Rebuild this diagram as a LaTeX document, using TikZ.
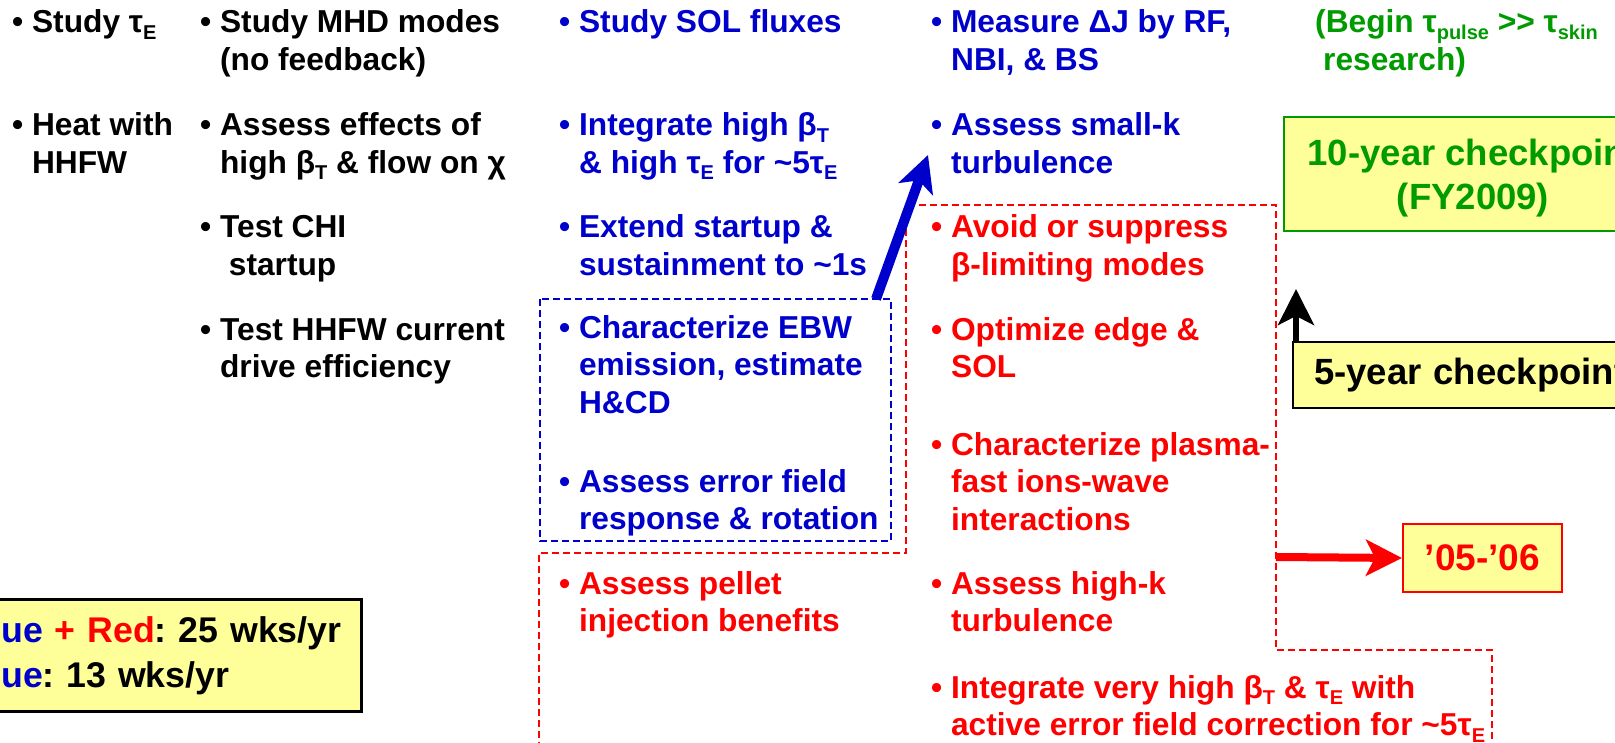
\documentclass[tikz,border=0pt]{standalone}
\usepackage{fontspec}
\setmainfont{Liberation Sans}
\usetikzlibrary{arrows.meta}

\definecolor{planblue}{RGB}{0,0,204}
\definecolor{planred}{RGB}{255,0,0}
\definecolor{plangreen}{RGB}{0,155,0}
\definecolor{noteyellow}{RGB}{255,255,153}

\newcommand{\sbs}[1]{\raisebox{-6.5pt}{\fontsize{20}{20}\selectfont #1}}
\newcommand{\hang}{\phantom{\textbullet\ }}

\tikzset{
	item/.style={anchor=base west, align=left, inner sep=0pt, font=\fontsize{31.7}{37.5}\selectfont\bfseries},
	notebox/.style={draw, fill=noteyellow, line width=2pt, font=\fontsize{36.5}{44}\selectfont\bfseries},
	plandash/.style={line width=2pt, dash pattern=on 7pt off 4pt},
	bigarrow/.style={-{Stealth[length=36pt, width=36pt, inset=9pt]}},
}

\begin{document}
\frenchspacing
\begin{tikzpicture}[x=1pt, y=-1pt]
	\fill[white] (0,0) rectangle (1615,743);
	\path[use as bounding box, clip] (0,0) rectangle (1615,743);

	\coordinate (bluetail) at (876,299);
	\coordinate (bluetip) at (928,155);
	\coordinate (blacktip) at (1296,289);
	\coordinate (redtail) at (1276,557);

	% run-time outlines
	\draw[plandash, planred] (539,760) -- (539,553) -- (906,553) -- (906,205) -- (1276,205)
		-- (1276,650) -- (1492,650) -- (1492,760);
	\draw[plandash, planblue] (540,299) rectangle (891,541);

	% first years (base = last line)
	\node[item] (tau) at (12,33) {\textbullet\ Study τ\sbs{E}};
	\node[item] (heat) at (12,173.5) {\textbullet\ Heat with\\\hang HHFW};

	\node[item] (mhd) at (200,70.5) {\textbullet\ Study MHD modes\\\hang(no feedback)};
	\node[item] (chi) at (200,173.5) {\textbullet\ Assess effects of\\\hang high β\sbs{T} \& flow on χ};
	\node[item] (chist) at (200,275.5) {\textbullet\ Test CHI\\\hang\ startup};
	\node[item] (hhfw) at (200,377.5) {\textbullet\ Test HHFW current\\\hang drive efficiency};

	% blue and red columns
	\node[item, text=planblue] (sol) at (559,33) {\textbullet\ Study SOL fluxes};
	\node[item, text=planblue] (integ) at (559,173.5) {\textbullet\ Integrate high β\sbs{T}\\\hang\& high τ\sbs{E} for \textasciitilde5τ\sbs{E}};
	\node[item, text=planblue] (extend) at (559,275.5) {\textbullet\ Extend startup \&\\\hang sustainment to \textasciitilde1s};
	\node[item, text=planblue] (ebw) at (559,413) {\textbullet\ Characterize EBW\\\hang emission, estimate\\\hang H\&CD};
	\node[item, text=planblue] (efield) at (559,529.5) {\textbullet\ Assess error field\\\hang response \& rotation};
	\node[item, text=planred] (pellet) at (559,631.5) {\textbullet\ Assess pellet\\\hang injection benefits};

	\node[item, text=planblue] (dj) at (931,70.5) {\textbullet\ Measure ΔJ by RF,\\\hang NBI, \& BS};
	\node[item, text=planblue] (smallk) at (931,173.5) {\textbullet\ Assess small-k\\\hang turbulence};
	\node[item, text=planred] (avoid) at (931,275.5) {\textbullet\ Avoid or suppress\\\hang β-limiting modes};
	\node[item, text=planred] (edge) at (931,377.5) {\textbullet\ Optimize edge \&\\\hang SOL};
	\node[item, text=planred] (fastion) at (931,530) {\textbullet\ Characterize plasma-\\\hang fast ions-wave\\\hang interactions};
	\node[item, text=planred] (highk) at (931,631.5) {\textbullet\ Assess high-k\\\hang turbulence};
	\node[item, text=planred] (vhigh) at (931,735.5) {\textbullet\ Integrate very high β\sbs{T} \& τ\sbs{E} with\\\hang active error field correction for \textasciitilde5τ\sbs{E}};

	\node[item, text=plangreen] (pulse) at (1315,70.5) {(Begin τ\sbs{pulse} \mbox{>}\mbox{>} τ\sbs{skin}\\\hspace*{8pt}research)};

	% checkpoints
	\node[notebox, draw=plangreen, text=plangreen, anchor=north west, minimum width=378pt, minimum height=114pt, text depth=0pt, align=center] (ten) at (1283,116) {10-year checkpoint\\(FY2009)};
	\node[notebox, anchor=north west, minimum height=66pt, text width=360pt, inner xsep=21pt, align=left] (five) at (1292,341) {5-year checkpoint};
	\node[notebox, draw=planred, text=planred, minimum width=159pt, minimum height=68pt, font=\fontsize{37}{44}\selectfont\bfseries] (oh) at (1482.5,558) {’05-’06};
	\node[notebox, line width=3pt, anchor=north west, minimum height=112pt, text width=392pt, inner xsep=4pt, align=left, font=\fontsize{35.7}{45}\selectfont\bfseries] (legend) at (-40,598)
		{\textcolor{planblue}{Blue} \textcolor{planred}{+ Red}: 25 wks/yr\\\textcolor{planblue}{Blue}: 13 wks/yr};

	\draw[bigarrow, planblue, line width=10pt] (bluetail) -- (bluetip);
	\draw[bigarrow, line width=6pt] ([xshift=4pt]five.north west) -- (blacktip);
	\draw[bigarrow, planred, line width=8pt] (redtail) -- (oh.west);
\end{tikzpicture}
\end{document}
